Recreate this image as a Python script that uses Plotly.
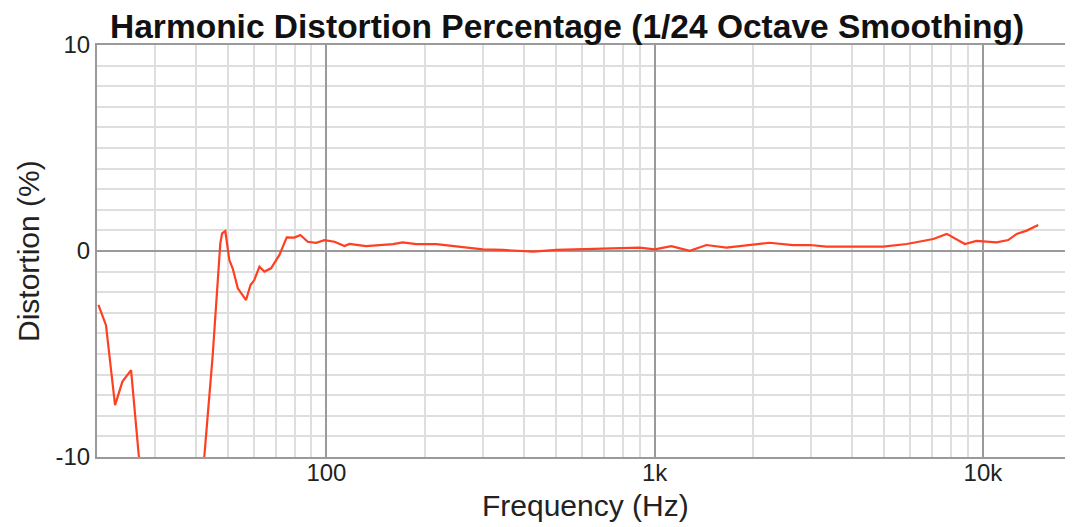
import numpy as np
import plotly.graph_objects as go

# frequency (Hz) and harmonic distortion (%)
freq_hz = [
    20.2, 21.3, 22.7, 23.9, 25.4, 26.8, 28.5, 32, 37, 41,
    42.5, 45.0, 47.5, 48.1, 49.2, 50.6, 51.8, 53.7, 56.9, 58.7,
    60.3, 62.5, 64.7, 67.8, 71.9, 75.7, 79.9, 83.3, 87.7, 93.0,
    98.6, 101, 105.8, 113.5, 117.5, 132, 148.5, 159.4, 170.9, 187.7,
    216, 237, 266.6, 299.7, 345, 426, 502, 605, 765, 900,
    1000, 1124, 1279, 1437, 1654, 1948, 2240, 2640, 2970, 3340,
    4020, 4970, 5860, 6430, 7060, 7760, 8130, 8810, 9560, 11010,
    11940, 12670, 13590, 14740,
]
distortion_pct = [
    -2.62, -3.6, -7.48, -6.34, -5.78, -9.9, -12.8, -17.5, -16.0, -12.0,
    -9.9, -5.13, 0.37, 0.86, 0.97, -0.44, -0.84, -1.81, -2.38, -1.65,
    -1.41, -0.76, -1.0, -0.84, -0.19, 0.66, 0.65, 0.78, 0.45, 0.40,
    0.53, 0.50, 0.45, 0.24, 0.34, 0.24, 0.29, 0.33, 0.42, 0.33,
    0.33, 0.26, 0.18, 0.08, 0.05, -0.03, 0.05, 0.08, 0.10, 0.16,
    0.08, 0.24, 0.01, 0.29, 0.16, 0.29, 0.40, 0.29, 0.29, 0.21,
    0.21, 0.21, 0.34, 0.45, 0.58, 0.83, 0.66, 0.34, 0.49, 0.42,
    0.53, 0.83, 0.99, 1.26,
]

x_tickvals = [100, 1000, 10000]
x_ticktext = ["100", "1k", "10k"]
x_minorvals = [m * d for d in (10, 100, 1000, 10000) for m in range(2, 10)]
y_tickvals = [-10, 0, 10]
y_ticktext = ["-10", "0", "10"]

FONT = "Liberation Sans, Arial, Helvetica, sans-serif"
MAJOR = "#9a9a9a"
MINOR = "#dedede"

# page body has an 8px margin, so the figure is sized/offset for that
W, H = 1065, 519
ML, MT, MB = 89, 37, 70
plot_h = H - MT - MB

fig = go.Figure()
fig.add_trace(
    go.Scatter(
        x=freq_hz,
        y=distortion_pct,
        mode="lines",
        line=dict(color="#ff3f22", width=2.2),
        showlegend=False,
    )
)

fig.update_layout(
    width=W,
    height=H,
    margin=dict(l=ML, r=0, t=MT, b=MB, autoexpand=False),
    paper_bgcolor="white",
    plot_bgcolor="white",
    font=dict(family=FONT, color="#222222"),
    title=dict(
        text="<b>Harmonic Distortion Percentage (1/24 Octave Smoothing)</b>",
        font=dict(size=33.5, color="#111111"),
        x=0.4816,
        xref="paper",
        xanchor="center",
        y=1 - 18 / H,
        yref="container",
        yanchor="middle",
        automargin=False,
    ),
    annotations=[
        dict(
            text="Frequency (Hz)",
            xref="paper", yref="paper",
            x=0.5, y=-48 / plot_h,
            xanchor="center", yanchor="middle",
            showarrow=False,
            font=dict(size=30, color="#222222"),
        ),
        dict(
            text="Distortion (%)",
            xref="paper", yref="paper",
            x=-69 / (W - ML), y=0.5,
            xanchor="center", yanchor="middle",
            textangle=-90,
            showarrow=False,
            font=dict(size=30, color="#222222"),
        ),
    ],
)

fig.update_xaxes(
    type="log",
    range=[np.log10(20), 4.2744],
    tickvals=x_tickvals,
    ticktext=x_ticktext,
    tickfont=dict(size=24),
    ticks="",
    ticklabelstandoff=-7,
    showgrid=True,
    gridcolor=MAJOR,
    gridwidth=1.5,
    minor=dict(tickvals=x_minorvals, showgrid=True, gridcolor=MINOR, gridwidth=1.5),
    showline=True,
    linecolor=MAJOR,
    linewidth=2,
    mirror=True,
    zeroline=False,
    automargin=False,
)

fig.update_yaxes(
    range=[-10, 10],
    tickvals=y_tickvals,
    ticktext=y_ticktext,
    tickfont=dict(size=24),
    ticks="",
    ticklabelstandoff=0,
    showgrid=True,
    gridcolor=MAJOR,
    gridwidth=1.5,
    minor=dict(dtick=1, showgrid=True, gridcolor=MINOR, gridwidth=1.5),
    showline=True,
    linecolor=MAJOR,
    linewidth=2,
    zeroline=False,
    automargin=False,
)

fig.write_html("out.html")
